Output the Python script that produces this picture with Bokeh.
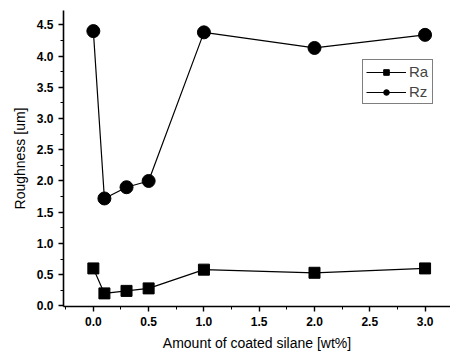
from bokeh.plotting import figure
from bokeh.models import Legend, LegendItem, FixedTicker, Range1d, NumeralTickFormatter
from bokeh.embed import file_html
from bokeh.resources import INLINE

silane = [0.0, 0.1, 0.3, 0.5, 1.0, 2.0, 3.0]
ra = [0.60, 0.20, 0.24, 0.28, 0.58, 0.53, 0.60]
rz = [4.40, 1.72, 1.90, 2.00, 4.38, 4.13, 4.34]
x_ticks = [0.0, 0.5, 1.0, 1.5, 2.0, 2.5, 3.0]
y_ticks = [0.0, 0.5, 1.0, 1.5, 2.0, 2.5, 3.0, 3.5, 4.0, 4.5]

p = figure(width=450, height=356, output_backend="svg", toolbar_location=None,
           x_range=Range1d(-0.27, 3.23), y_range=Range1d(-0.01, 4.73),
           min_border_left=63, min_border_right=0, min_border_top=10, min_border_bottom=50)
p.outline_line_color = None
p.xgrid.visible = False
p.ygrid.visible = False

for ax in (p.xaxis[0], p.yaxis[0]):
    ax.axis_line_width = 1.6
    ax.major_tick_line_width = 1.4
    ax.minor_tick_line_width = 1.0
    ax.major_tick_out = 5
    ax.major_tick_in = 0
    ax.minor_tick_out = 3
    ax.minor_tick_in = 0
    ax.major_label_text_font = "Liberation Sans"
    ax.major_label_text_font_style = "bold"
    ax.major_label_text_font_size = "12px"
    ax.major_label_text_color = "black"
    ax.axis_label_text_font = "Liberation Sans"
    ax.axis_label_text_font_style = "normal"
    ax.axis_label_text_font_size = "14px"
    ax.axis_label_text_color = "black"

p.xaxis.ticker = FixedTicker(ticks=x_ticks, minor_ticks=[-0.25, 0.25, 0.75, 1.25, 1.75, 2.25, 2.75])
p.yaxis.ticker = FixedTicker(ticks=y_ticks, minor_ticks=[0.25 + 0.5 * i for i in range(9)])
p.xaxis.formatter = NumeralTickFormatter(format="0.0")
p.yaxis.formatter = NumeralTickFormatter(format="0.0")
p.xaxis.axis_label = "Amount of coated silane [wt%]"
p.yaxis.axis_label = "Roughness [um]"
p.xaxis.axis_label_standoff = 6
p.yaxis.axis_label_standoff = 6

l1 = p.line(silane, ra, line_color="black", line_width=1.2)
m1 = p.scatter(silane, ra, marker="square", size=11, fill_color="black", line_color="black")
l2 = p.line(silane, rz, line_color="black", line_width=1.2)
m2 = p.scatter(silane, rz, marker="circle", size=13, fill_color="black", line_color="black")

legend = Legend(items=[LegendItem(label="Ra", renderers=[l1, m1]),
                       LegendItem(label="Rz", renderers=[l2, m2])],
                location=(299, 202))
legend.border_line_color = "black"
legend.border_line_width = 1.2
legend.label_text_font = "Liberation Sans"
legend.label_text_font_size = "15px"
legend.glyph_width = 40
legend.glyph_height = 14
legend.spacing = 3
legend.padding = 3
legend.margin = 0
legend.label_standoff = 3
legend.label_height = 14
p.add_layout(legend)

open("out.html", "w").write(file_html(p, INLINE))
